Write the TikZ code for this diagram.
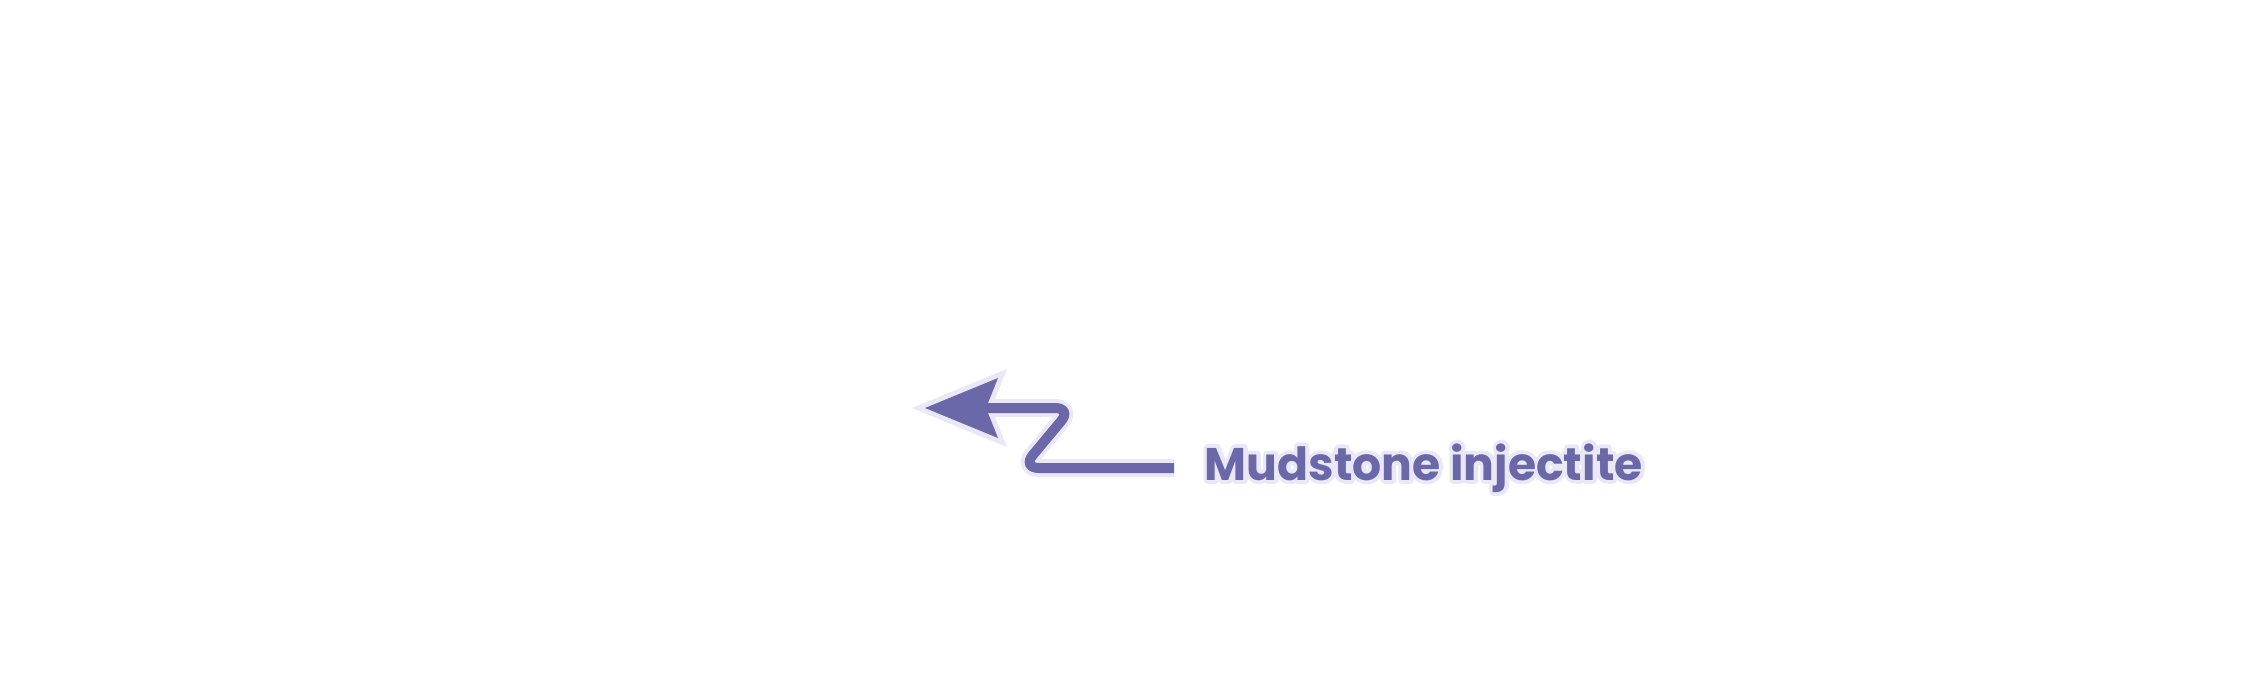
\documentclass[tikz,border=0pt]{standalone}
\usepackage{fontspec}
\setmainfont{Poppins}
\definecolor{injcol}{RGB}{106,104,168}
\definecolor{halocol}{RGB}{234,232,246}
\newcommand{\halotext}[1]{\special{pdf:literal direct q 1 Tr 2.2 w 1 j 0.918 0.91 0.965 RG}#1\special{pdf:literal direct Q}}
\tikzset{
  halo line/.style={draw=halocol, line width=0.18cm, rounded corners=0.17cm},
  main line/.style={draw=injcol, line width=0.1cm, rounded corners=0.17cm},
  head halo/.style={draw=halocol, fill=halocol, line width=0.1cm, line join=miter},
  head main/.style={fill=injcol},
  label text/.style={anchor=base west, inner sep=0pt, font=\fontsize{13pt}{13pt}\bfseries}
}
\begin{document}
\begin{tikzpicture}[x=0.01cm,y=-0.01cm]
  \useasboundingbox (0,0) rectangle (2248,700);
  \coordinate (tip) at (925,408);
  \coordinate (top) at (998,378);
  \coordinate (bot) at (998,438);
  \coordinate (notch) at (986,408);
  \coordinate (bend1) at (1072,408);
  \coordinate (bend2) at (1022,468);
  \coordinate (end) at (1174,468);
  \node[label text, text=halocol] (lblhalo) at (1204,480) {\halotext{Mudstone injectite}};
  \node[label text, text=injcol] (lbl) at (lblhalo.base west) {Mudstone injectite};
  \draw[halo line] (notch) -- (bend1) -- (bend2) -- (end);
  \filldraw[head halo] (tip) -- (top) -- (notch) -- (bot) -- cycle;
  \draw[main line] (notch) -- (bend1) -- (bend2) -- (end);
  \fill[head main] (tip) -- (top) -- (notch) -- (bot) -- cycle;
\end{tikzpicture}
\end{document}
